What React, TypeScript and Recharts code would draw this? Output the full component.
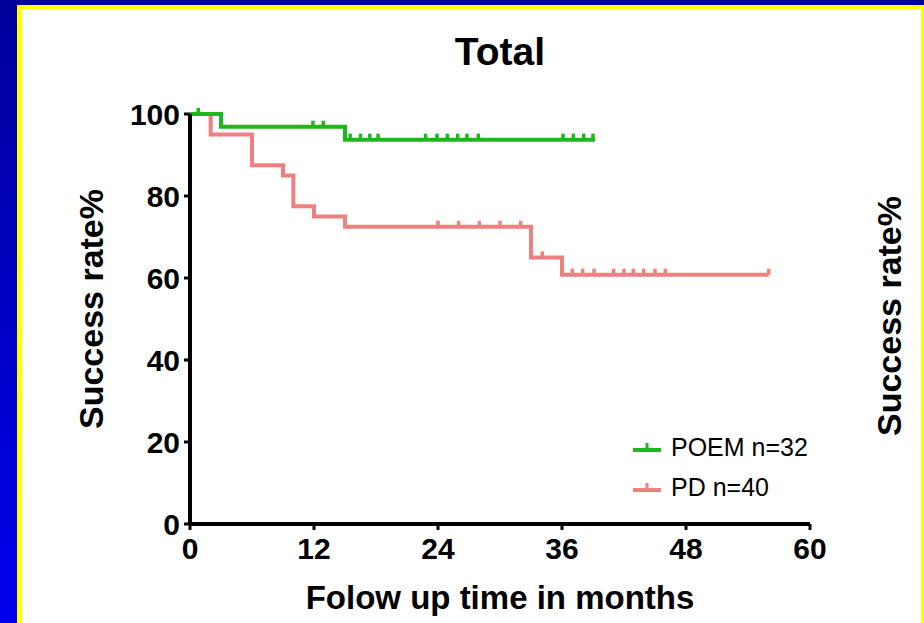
import { LineChart, Line, XAxis, YAxis } from 'recharts';

// Kaplan-Meier steps: month where the curve drops, and the rate after the drop
const poemStepMonths = [0, 3, 15, 39.2];
const poemStepRates = [100, 96.9, 93.75, 93.75];
const poemCensorMonths = [0.8, 11.9, 12.9, 15.5, 16.5, 17.4, 18.2, 22.8, 23.9, 24.9, 25.9, 26.8, 27.9, 36.1, 37.1, 38.1, 39.0];

const pdStepMonths = [0, 2, 6, 9, 10, 12, 15, 33, 36, 56];
const pdStepRates = [100, 95, 87.5, 85, 77.5, 75, 72.5, 65, 60.8, 60.8];
const pdCensorMonths = [24, 26, 28, 30, 32, 34.1, 37, 38, 39.1, 41, 42, 42.9, 43.9, 45, 46, 56];

const xTicks = [0, 12, 24, 36, 48, 60];
const yTicks = [0, 20, 40, 60, 80, 100];

const POEM_COLOR = '#1DB81D';
const PD_COLOR = '#F08080';
const FONT = '"Liberation Sans", Arial, sans-serif';

type Pt = { t: number; s: number; censored: boolean };

const buildSeries = (months: number[], rates: number[], censors: number[]): Pt[] => {
  const rateAt = (t: number) => {
    let r = rates[0];
    months.forEach((m, i) => {
      if (m <= t) r = rates[i];
    });
    return r;
  };
  const pts: Pt[] = months.map((m, i) => ({ t: m, s: rates[i], censored: false }));
  censors.forEach((c) => pts.push({ t: c, s: rateAt(c), censored: true }));
  return pts.sort((a, b) => a.t - b.t || (a.censored ? 1 : -1));
};

const poemData = buildSeries(poemStepMonths, poemStepRates, poemCensorMonths);
const pdData = buildSeries(pdStepMonths, pdStepRates, pdCensorMonths);

const censorDot = (color: string) => (props: any) => {
  const { cx, cy, payload, index } = props;
  if (!payload || !payload.censored) return <g key={`n-${index}`} />;
  return (
    <line
      key={`c-${index}`}
      x1={cx}
      x2={cx}
      y1={cy}
      y2={cy - 6}
      stroke={color}
      strokeWidth={3.5}
    />
  );
};

const LegendMark = ({ color }: { color: string }) => (
  <svg width={28} height={12} style={{ marginRight: 10 }}>
    <line x1={0} x2={28} y1={9} y2={9} stroke={color} strokeWidth={4} />
    <line x1={14} x2={14} y1={9} y2={2} stroke={color} strokeWidth={3} />
  </svg>
);

const App = () => {
  return (
    <div
      style={{
        position: 'absolute',
        left: 0,
        top: 0,
        width: 924,
        height: 623,
        background: 'linear-gradient(#000099, #0000EE)',
        overflow: 'hidden',
        fontFamily: FONT,
      }}
    >
      <div style={{ position: 'absolute', left: 17, top: 5, width: 907, height: 618, background: '#FFFF00' }} />
      <div style={{ position: 'absolute', left: 22, top: 9, width: 899, height: 614, background: '#FFFFFF' }} />

      <div style={{ position: 'absolute', left: 0, top: 0 }}>
        <LineChart width={924} height={623} margin={{ top: 114, right: 114, bottom: 59, left: 110 }}>
          <XAxis
            type="number"
            dataKey="t"
            domain={[0, 60]}
            ticks={xTicks}
            allowDataOverflow
            height={40}
            tickSize={6}
            tickMargin={8}
            axisLine={{ stroke: '#000', strokeWidth: 4 }}
            tickLine={{ stroke: '#000', strokeWidth: 3 }}
            tick={{ fill: '#000', fontSize: 30, fontWeight: 700, fontFamily: FONT }}
          />
          <YAxis
            type="number"
            dataKey="s"
            domain={[0, 100]}
            ticks={yTicks}
            width={80}
            tickSize={6}
            tickMargin={4}
            axisLine={{ stroke: '#000', strokeWidth: 4 }}
            tickLine={{ stroke: '#000', strokeWidth: 3 }}
            tick={{ fill: '#000', fontSize: 30, fontWeight: 700, fontFamily: FONT }}
          />
          <Line
            data={pdData}
            dataKey="s"
            type="stepAfter"
            stroke={PD_COLOR}
            strokeWidth={4}
            dot={censorDot(PD_COLOR)}
            activeDot={false}
            isAnimationActive={false}
          />
          <Line
            data={poemData}
            dataKey="s"
            type="stepAfter"
            stroke={POEM_COLOR}
            strokeWidth={4}
            dot={censorDot(POEM_COLOR)}
            activeDot={false}
            isAnimationActive={false}
          />
        </LineChart>
      </div>

      <div
        style={{
          position: 'absolute',
          left: 0,
          width: 1000,
          top: 30,
          textAlign: 'center',
          fontSize: 39,
          fontWeight: 700,
          lineHeight: '44px',
        }}
      >
        Total
      </div>
      <div
        style={{
          position: 'absolute',
          left: 0,
          width: 1000,
          top: 579,
          textAlign: 'center',
          fontSize: 33,
          fontWeight: 700,
          lineHeight: '38px',
        }}
      >
        Folow up time in months
      </div>
      <div
        style={{
          position: 'absolute',
          left: 91 - 200,
          top: 309 - 20,
          width: 400,
          height: 40,
          lineHeight: '40px',
          textAlign: 'center',
          transform: 'rotate(-90deg)',
          fontSize: 34,
          fontWeight: 700,
        }}
      >
        Success rate%
      </div>
      <div
        style={{
          position: 'absolute',
          left: 889 - 200,
          top: 316 - 20,
          width: 400,
          height: 40,
          lineHeight: '40px',
          textAlign: 'center',
          transform: 'rotate(-90deg)',
          fontSize: 34,
          fontWeight: 700,
        }}
      >
        Success rate%
      </div>

      <div style={{ position: 'absolute', left: 633, top: 427, fontSize: 25, lineHeight: '40px' }}>
        <div style={{ display: 'flex', alignItems: 'center' }}>
          <LegendMark color={POEM_COLOR} />
          <span>POEM n=32</span>
        </div>
        <div style={{ display: 'flex', alignItems: 'center' }}>
          <LegendMark color={PD_COLOR} />
          <span>PD n=40</span>
        </div>
      </div>
    </div>
  );
};

export default App;
